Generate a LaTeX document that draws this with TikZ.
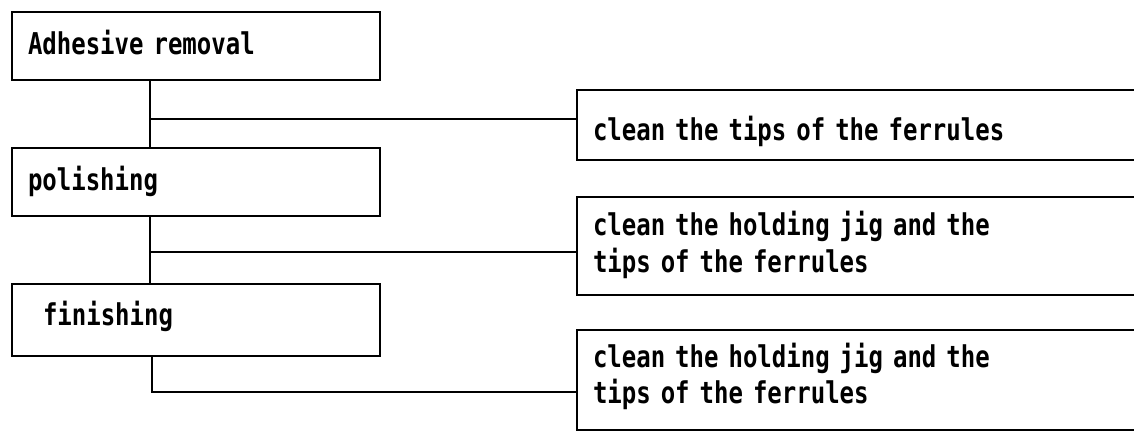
\documentclass[tikz,border=0pt]{standalone}
\usepackage{fontspec}
\newfontfamily\diafont[FakeStretch=0.8]{DejaVu Sans Mono}
\usetikzlibrary{calc}
\begin{document}
\begin{tikzpicture}[x=1pt,y=-1pt,
  box/.style={draw, line width=2pt, inner xsep=16pt, inner ysep=0pt, outer sep=0pt,
    anchor=north west, align=left, font=\diafont\bfseries\fontsize{30}{37}\selectfont},
  lbox/.style={box, text width=336pt},
  rbox/.style={box, text width=560pt},
  link/.style={line width=2pt}]
\clip (0,0) rectangle (1134,437);
\fill[white] (0,0) rectangle (1134,437);
% left step boxes
\node[lbox, text height=42pt, text depth=26pt] (b1) at (12,12) {Adhesive removal};
\node[lbox, text height=42pt, text depth=26pt] (b2) at (12,148) {polishing};
\node[lbox, text height=41pt, text depth=31pt] (b3) at (12,284) {\hspace*{15pt}finishing};
% right cleaning boxes (open to the right, beyond the edge)
\node[rbox, text height=50pt, text depth=20pt] (r1) at (577,90) {clean the tips of the ferrules};
\node[rbox, text height=38pt, text depth=60pt] (r2) at (577,197) {clean the holding jig and the\\tips of the ferrules};
\node[rbox, text height=37pt, text depth=63pt, font=\diafont\bfseries\fontsize{30}{36}\selectfont] (r3) at (577,330) {clean the holding jig and the\\tips of the ferrules};
% connectors
\coordinate (j1) at (150,119);
\coordinate (j2) at (150,252);
\coordinate (j3) at (152,392);
\draw[link] (b1.south -| j1) -- (b2.north -| j1);
\draw[link] (j1) -- (r1.west |- j1);
\draw[link] (b2.south -| j2) -- (b3.north -| j2);
\draw[link] (j2) -- (r2.west |- j2);
\draw[link] (b3.south -| j3) -- (j3) -- (r3.west |- j3);
\end{tikzpicture}
\end{document}
